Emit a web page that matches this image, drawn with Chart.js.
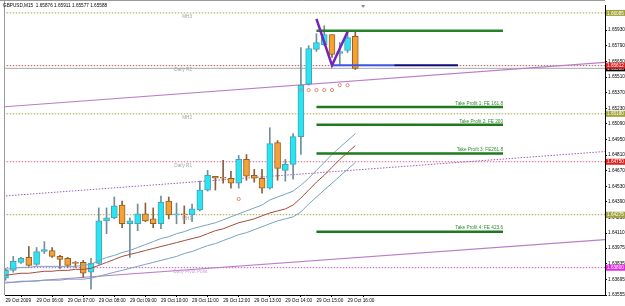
<!DOCTYPE html>
<html>
<head>
<meta charset="utf-8">
<script src="https://cdn.jsdelivr.net/npm/chart.js@4"></script>
<style>
  html, body { margin: 0; padding: 0; background: #fff; }
  #wrap { width: 625px; height: 306px; }
</style>
</head>
<body>
<div id="wrap"><canvas id="chart" width="625" height="306"></canvas></div>
<script>
// GBPUSD M15, 29 Oct 2009, bars from 05:00 to 16:15
const symbolTitle = 'GBPUSD,M15  1.65876 1.65911 1.65577 1.65588';

const barOpen = [1.63705, 1.63776, 1.63847, 1.63892, 1.63830, 1.63945, 1.63954, 1.63901, 1.63883, 1.63847,
  1.63847, 1.63759, 1.63839, 1.64220, 1.64247, 1.64362, 1.64194, 1.64194, 1.64283, 1.64238,
  1.64194, 1.64398, 1.64274, 1.64283, 1.64274, 1.64318, 1.64496, 1.64620, 1.64611, 1.64602,
  1.64558, 1.64771, 1.64629, 1.64602, 1.64513, 1.64922, 1.64673, 1.64727, 1.64975, 1.65446,
  1.65757, 1.65801, 1.65890, 1.65721, 1.65748, 1.65876];
const barHigh = [1.63794, 1.63901, 1.63892, 1.63990, 1.63981, 1.64034, 1.63981, 1.63910, 1.63892, 1.63856,
  1.63865, 1.63883, 1.64336, 1.64336, 1.64434, 1.64398, 1.64247, 1.64371, 1.64380, 1.64336,
  1.64442, 1.64434, 1.64380, 1.64354, 1.64371, 1.64576, 1.64673, 1.64620, 1.64762, 1.64664,
  1.64806, 1.64815, 1.64682, 1.64682, 1.65055, 1.64940, 1.64771, 1.65002, 1.65774, 1.65792,
  1.65899, 1.65970, 1.65890, 1.65819, 1.65916, 1.65911];
const barLow = [1.63688, 1.63759, 1.63839, 1.63812, 1.63821, 1.63927, 1.63892, 1.63794, 1.63803, 1.63803,
  1.63714, 1.63608, 1.63830, 1.64105, 1.64238, 1.64158, 1.63892, 1.64132, 1.64212, 1.64158,
  1.64149, 1.64238, 1.64194, 1.64194, 1.64212, 1.64309, 1.64487, 1.64496, 1.64558, 1.64513,
  1.64513, 1.64584, 1.64567, 1.64469, 1.64505, 1.64584, 1.64576, 1.64593, 1.64815, 1.65437,
  1.65739, 1.65792, 1.65686, 1.65623, 1.65730, 1.65577];
const barClose = [1.63776, 1.63856, 1.63883, 1.63821, 1.63945, 1.63963, 1.63901, 1.63874, 1.63821, 1.63839,
  1.63750, 1.63839, 1.64220, 1.64247, 1.64354, 1.64194, 1.64220, 1.64283, 1.64220, 1.64194,
  1.64389, 1.64274, 1.64283, 1.64274, 1.64327, 1.64496, 1.64629, 1.64602, 1.64602, 1.64558,
  1.64771, 1.64620, 1.64602, 1.64513, 1.64913, 1.64691, 1.64727, 1.64975, 1.65437, 1.65766,
  1.65819, 1.65890, 1.65712, 1.65739, 1.65863, 1.65588];

// moving averages (upper envelope, middle, lower envelope)
const maUpper = [1.63785, 1.63794, 1.63803, 1.63803, 1.63812, 1.63812, 1.63812, 1.63812, 1.63812, 1.63812,
  1.63821, 1.63830, 1.63865, 1.63892, 1.63910, 1.63936, 1.63954, 1.63981, 1.64007, 1.64034,
  1.64061, 1.64078, 1.64105, 1.64123, 1.64149, 1.64167, 1.64185, 1.64203, 1.64229, 1.64256,
  1.64283, 1.64309, 1.64336, 1.64362, 1.64407, 1.64434, 1.64460, 1.64487, 1.64540, 1.64602,
  1.64673, 1.64744, 1.64815, 1.64878, 1.64940, 1.65002];
const maMiddle = [1.63732, 1.63741, 1.63750, 1.63750, 1.63759, 1.63768, 1.63768, 1.63776, 1.63776, 1.63785,
  1.63785, 1.63794, 1.63821, 1.63847, 1.63874, 1.63901, 1.63919, 1.63936, 1.63954, 1.63972,
  1.63990, 1.64007, 1.64025, 1.64043, 1.64061, 1.64078, 1.64105, 1.64132, 1.64149, 1.64176,
  1.64203, 1.64220, 1.64238, 1.64265, 1.64291, 1.64309, 1.64327, 1.64362, 1.64425, 1.64496,
  1.64567, 1.64629, 1.64700, 1.64771, 1.64833, 1.64895];
const maLower = [1.63670, 1.63670, 1.63679, 1.63679, 1.63679, 1.63688, 1.63688, 1.63688, 1.63697, 1.63697,
  1.63697, 1.63705, 1.63723, 1.63741, 1.63759, 1.63776, 1.63794, 1.63812, 1.63830, 1.63847,
  1.63865, 1.63883, 1.63901, 1.63927, 1.63945, 1.63972, 1.63998, 1.64016, 1.64043, 1.64069,
  1.64096, 1.64114, 1.64141, 1.64167, 1.64194, 1.64220, 1.64238, 1.64256, 1.64300, 1.64371,
  1.64434, 1.64496, 1.64558, 1.64620, 1.64682, 1.64744];

const timeTickBars = [0, 4, 8, 12, 16, 20, 24, 28, 32, 36, 40, 44];
const timeTickLabels = ['29 Oct 2009', '29 Oct 06:00', '29 Oct 07:00', '29 Oct 08:00', '29 Oct 09:00',
  '29 Oct 10:00', '29 Oct 11:00', '29 Oct 12:00', '29 Oct 13:00', '29 Oct 14:00', '29 Oct 15:00', '29 Oct 16:00'];

const priceTicks = [1.65930, 1.65790, 1.65650, 1.65510, 1.65370, 1.65230, 1.65090, 1.64950, 1.64810,
  1.64670, 1.64530, 1.64390, 1.64250, 1.64110, 1.63975, 1.63835, 1.63695, 1.63555];

// pivot / MH levels
const levelNames = ['MH3', 'Daily R2', 'MH2', 'Daily R1', 'MH1', 'Daily Pivot Point'];
const levelPrices = [1.66085, 1.65612, 1.65180, 1.64750, 1.64275, 1.63800];
const bidPrice = 1.65588;

// trend channel, two anchor points each
const channelBars = [-0.32, 77.12];
const channelUpper = [1.65242, 1.65641];
const channelMiddle = [1.64442, 1.64842];
const channelLower = [1.63661, 1.64052];

// take profit targets
const tpNames = ['Take Profit 1: FE 161.8', 'Take Profit 2: FE 200', 'Take Profit 3: FE261.8', 'Take Profit 4: FE 423.6'];
const tpPrices = [1.65242, 1.65082, 1.64824, 1.64123];
const tpBars = [40, 64];
const topTargetPrice = 1.65925;

// pattern drawn over the top
const patternBars = [40, 42, 44];
const patternPrices = [1.66032, 1.65615, 1.65916];
const entryBars = [42, 50, 58.2];
const entryPrice = 1.65615;

// fractal dots
const fractalBars = [30, 38, 39, 40, 41, 42, 43, 44];
const fractalPrices = [1.64416, 1.65393, 1.65393, 1.65393, 1.65393, 1.65393, 1.65437, 1.65437];

// ---------------------------------------------------------------

const FONT = '"Liberation Sans", Arial, sans-serif';
const bullFill = '#27E5F3', bullEdge = '#4E9FB0', bullWick = '#6F8E98';
const bearFill = '#F6A232', bearEdge = '#94602A', bearWick = '#8A5E3E';

const isBull = barOpen.map((o, i) => barClose[i] >= o);
const toPoints = values => values.map((v, i) => ({ x: i, y: v }));
const flat = (price, x0, x1) => [{ x: x0, y: price }, { x: x1, y: price }];
const pair = (xs, ys) => xs.map((x, i) => ({ x, y: ys[i] }));

const levelStyles = [
  { line: '#A3A345', box: '#A2A23C', text: '#A6A6A6' },
  { line: '#B25A5A', box: '#E0221E', text: '#A6A6A6' },
  { line: '#A3A345', box: '#A2A23C', text: '#A6A6A6' },
  { line: '#D2648A', box: '#E0221E', text: '#A6A6A6' },
  { line: '#A3A345', box: '#A2A23C', text: '#A6A6A6' },
  { line: '#C25AC8', box: '#E224E2', text: '#C9A2D8' }
];

function lineSet(data, color, width, order, dash) {
  return {
    type: 'line', data, borderColor: color, borderWidth: width, borderDash: dash || [],
    pointRadius: 0, tension: 0, fill: false, order
  };
}

const datasets = [];

levelNames.forEach((name, i) => {
  datasets.push(lineSet(flat(levelPrices[i], -1, 78), levelStyles[i].line, 1, 20, [1.5, 1.5]));
});
datasets.push(lineSet(flat(bidPrice, -1, 78), '#A8A8A8', 1, 19));

datasets.push(lineSet(pair(channelBars, channelUpper), '#BA7DC8', 1.1, 15));
datasets.push(lineSet(pair(channelBars, channelMiddle), '#A45AB4', 1, 15, [1.5, 1.5]));
datasets.push(lineSet(pair(channelBars, channelLower), '#BA7DC8', 1.1, 15));

datasets.push({
  type: 'bar',
  data: barLow.map((l, i) => ({ x: i, y: [l, barHigh[i]] })),
  backgroundColor: isBull.map(b => b ? bullWick : bearWick),
  barThickness: 1, grouped: false, minBarLength: 1, order: 6
});
datasets.push({
  type: 'bar',
  data: barOpen.map((o, i) => ({ x: i, y: [o, barClose[i]] })),
  backgroundColor: isBull.map(b => b ? bullFill : bearFill),
  borderColor: isBull.map(b => b ? bullEdge : bearEdge),
  borderWidth: 1, borderSkipped: false,
  barThickness: 6, grouped: false, minBarLength: 1, order: 5
});

datasets.push(lineSet(toPoints(maUpper), '#77A3BF', 1, 4));
datasets.push(lineSet(toPoints(maMiddle), '#A34B3C', 1, 4));
datasets.push(lineSet(toPoints(maLower), '#77A3BF', 1, 4));

tpPrices.forEach(p => datasets.push(lineSet(flat(p, tpBars[0], tpBars[1]), '#1F7A1F', 2.5, 3)));
datasets.push(lineSet(flat(topTargetPrice, tpBars[0], tpBars[1]), '#2A7F2A', 2.5, 3));

datasets.push(lineSet(flat(entryPrice, entryBars[0], entryBars[1]), '#3B57E4', 2, 2));
datasets.push(lineSet(flat(entryPrice, entryBars[1], entryBars[2]), '#0B0B7A', 2, 2));
datasets.push(lineSet(pair(patternBars, patternPrices), '#7424BE', 2.5, 1));

datasets.push({
  type: 'line', showLine: false,
  data: pair(fractalBars, fractalPrices),
  pointRadius: 1.6, pointBorderWidth: 1,
  pointBorderColor: fractalBars.map(b => b === 38 ? '#7FA8A8' : '#E08A7C'),
  pointBackgroundColor: 'rgba(0,0,0,0)', order: 0
});

const overlayText = {
  id: 'overlayText',
  afterDatasetsDraw(chart) {
    const { ctx, scales: { x, y } } = chart;
    ctx.save();
    ctx.font = '4.7px ' + FONT;
    ctx.textBaseline = 'middle';
    ctx.textAlign = 'right';
    levelNames.forEach((name, i) => {
      ctx.fillStyle = levelStyles[i].text;
      const anchor = i === 5 ? 26 : 24;
      ctx.fillText(name, x.getPixelForValue(anchor), y.getPixelForValue(levelPrices[i]) + 4);
    });
    ctx.fillStyle = '#2E8B2E';
    tpNames.forEach((name, i) => {
      ctx.fillText(name, x.getPixelForValue(tpBars[1]), y.getPixelForValue(tpPrices[i]) - 3.5);
    });
    ctx.restore();
  },
  afterDraw(chart) {
    const { ctx, chartArea: a, scales: { x, y } } = chart;
    ctx.save();
    // frame
    ctx.strokeStyle = '#9a9a9a';
    ctx.lineWidth = 1;
    ctx.beginPath();
    ctx.moveTo(0, 0.5); ctx.lineTo(a.right, 0.5);
    ctx.moveTo(a.left - 0.5, 0); ctx.lineTo(a.left - 0.5, a.bottom);
    ctx.stroke();

    // title
    ctx.font = '4.7px ' + FONT;
    ctx.textBaseline = 'middle';
    ctx.textAlign = 'left';
    ctx.fillStyle = '#000';
    ctx.fillText(symbolTitle, 3, 6);

    // chart shift marker
    const mx = x.getPixelForValue(46);
    ctx.fillStyle = '#8a8a8a';
    ctx.beginPath();
    ctx.moveTo(mx - 2, a.top); ctx.lineTo(mx + 2, a.top); ctx.lineTo(mx, a.top + 3);
    ctx.closePath(); ctx.fill();

    // price boxes on the axis
    const box = (price, fill, text) => {
      const py = y.getPixelForValue(price);
      ctx.fillStyle = fill;
      ctx.fillRect(a.right + 1, py - 3, 19, 6);
      ctx.fillStyle = text;
      ctx.fillText(price.toFixed(5), a.right + 2, py + 0.3);
    };
    box(bidPrice, '#000', '#fff');
    [0, 2, 4, 1, 3, 5].forEach(i => box(levelPrices[i], levelStyles[i].box, '#fff'));
    ctx.restore();
  }
};

new Chart(document.getElementById('chart'), {
  type: 'line',
  data: { datasets },
  options: {
    responsive: false,
    animation: false,
    events: [],
    layout: { padding: { left: 2, top: 2, right: 0, bottom: 0 } },
    plugins: { legend: { display: false }, tooltip: { enabled: false } },
    scales: {
      x: {
        type: 'linear', min: -0.064, max: 77.12, offset: false,
        grid: { drawOnChartArea: false, drawTicks: true, tickLength: 2, color: '#000' },
        border: { color: '#000' },
        ticks: {
          autoSkip: false, maxRotation: 0, minRotation: 0, align: 'start', padding: 1,
          color: '#000', font: { family: FONT, size: 4.7 },
          callback: (v, i) => timeTickLabels[i]
        },
        afterBuildTicks: s => { s.ticks = timeTickBars.map(b => ({ value: b })); },
        afterFit: s => { s.height = 11; s.paddingLeft = 0; s.paddingRight = 0; }
      },
      y: {
        type: 'linear', position: 'right', min: 1.63555, max: 1.66156,
        grid: { drawOnChartArea: false, drawTicks: true, tickLength: 2, color: '#000' },
        border: { color: '#000' },
        ticks: {
          padding: 1, color: '#000', font: { family: FONT, size: 4.7 },
          callback: v => v.toFixed(5)
        },
        afterBuildTicks: s => { s.ticks = priceTicks.map(p => ({ value: p })); },
        afterFit: s => { s.width = 20; s.paddingTop = 0; s.paddingBottom = 0; }
      }
    }
  },
  plugins: [overlayText]
});
</script>
</body>
</html>
